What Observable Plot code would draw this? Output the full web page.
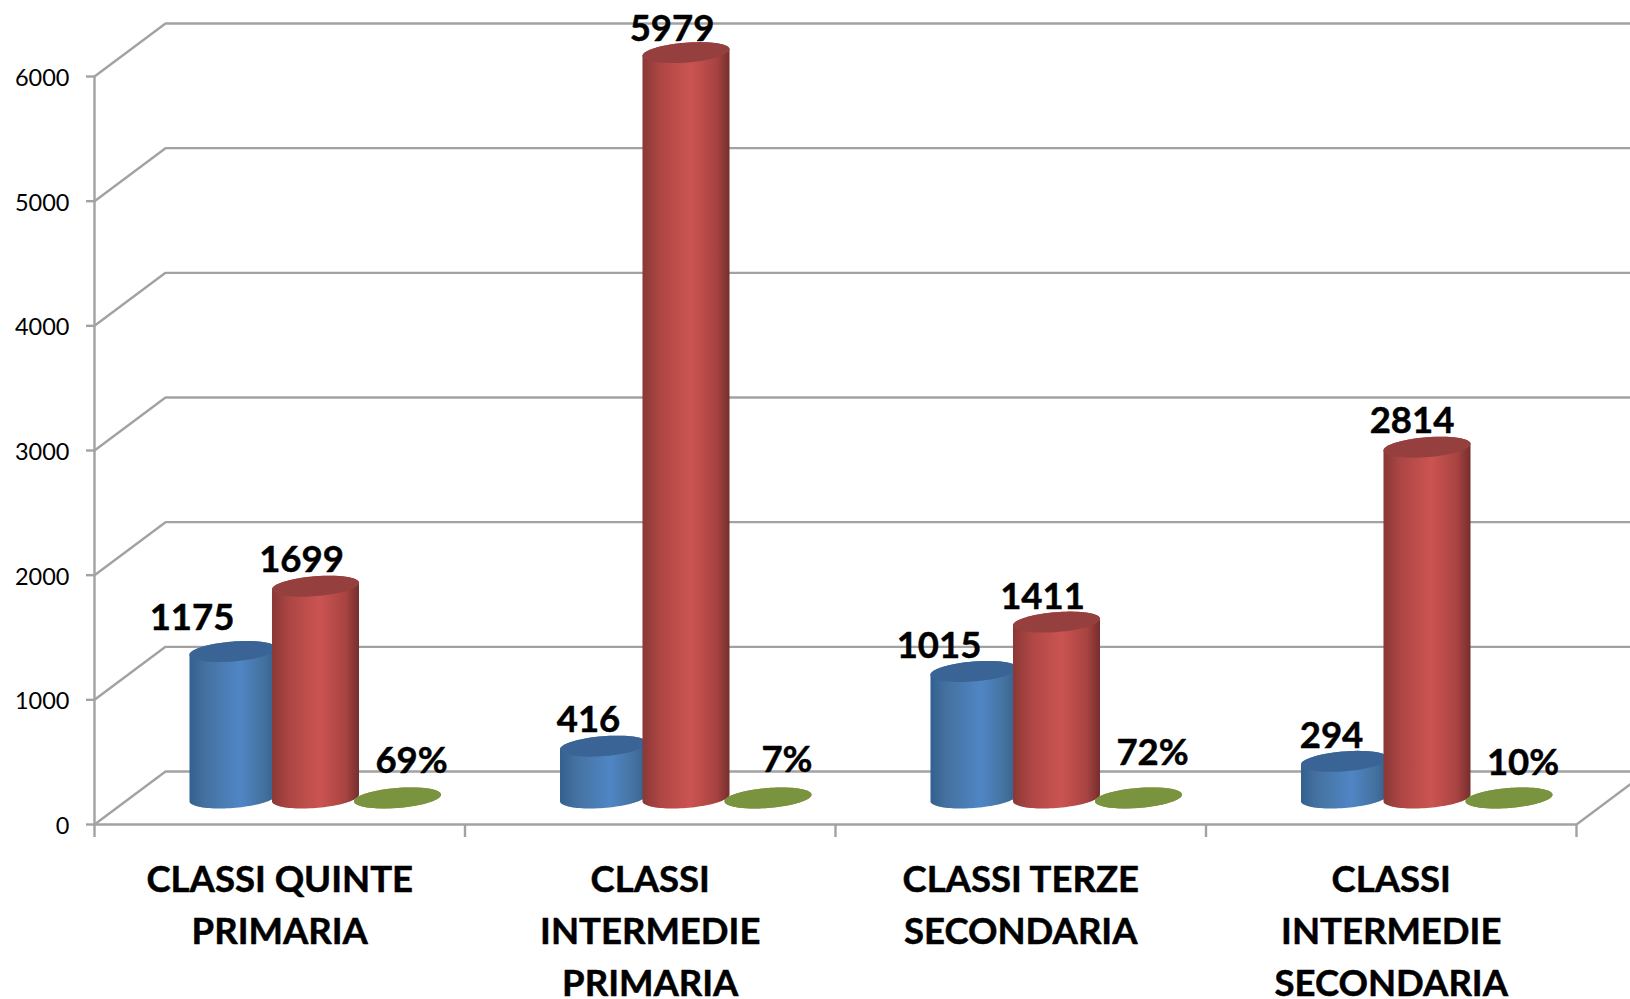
<!DOCTYPE html>
<html lang="it">
<head>
<meta charset="utf-8">
<title>Classi</title>
<style>
html,body{margin:0;padding:0;background:#fff;overflow:hidden}
svg{display:block;overflow:hidden}
</style>
<script src="https://cdn.jsdelivr.net/npm/d3@7"></script>
<script src="https://cdn.jsdelivr.net/npm/@observablehq/plot@0.6"></script>
</head>
<body>
<div id="chart"></div>
<script>
const categories = ["CLASSI QUINTE\nPRIMARIA", "CLASSI\nINTERMEDIE\nPRIMARIA", "CLASSI TERZE\nSECONDARIA", "CLASSI\nINTERMEDIE\nSECONDARIA"];
const blueValues = [1175, 416, 1015, 294];
const redValues = [1699, 5979, 1411, 2814];
const greenPercent = [69, 7, 72, 10];
const yTicks = [0, 1000, 2000, 3000, 4000, 5000, 6000];

// layout of the frame, in pixels
const W = 1630, H = 999, mL = 94, mR = 54, mT = 76, mB = 175;
const pxX = (W - mL - mR) / categories.length;      // pixels per category
const pxY = (H - mT - mB) / 6000;                   // pixels per value unit
const ux = v => v / pxX, uy = v => v / pxY;         // pixel lengths -> data lengths

// oblique depth of the 3-D box
const depthX = ux(71), depthY = uy(53);
const gridColor = "#a2a2a2";
const gridWidth = 2.4;
const font = "Lato";
const labelFont = {fontSize: 36.5, fontWeight: 700, fontFamily: font, fill: "#000", stroke: "#000", strokeWidth: 0.5};

// a cylinder stands mid-depth on the floor
const a = ux(41.3), bx = ux(13.7), by = uy(10.5);
const t0 = Math.atan2(bx, a);
const ring = (xc, yc, from, to, n = 48) =>
  d3.range(n + 1).map(i => {
    const t = from + (to - from) * i / n;
    return {x: xc + a * Math.cos(t) + bx * Math.sin(t), y: yc + by * Math.sin(t)};
  });

const series = [
  {values: blueValues, at: ux(138.5), grad: "url(#gBlue)", top: "#3a6496"},
  {values: redValues, at: ux(221), grad: "url(#gRed)", top: "#95403e"},
  {values: greenPercent.map(p => p / 100), at: ux(303), grad: "#7a933f", top: "#7a933f"}
];

const cylinderMarks = series.flatMap(s => {
  const body = [], caps = [];
  s.values.forEach((v, i) => {
    const xc = i + s.at, y0 = depthY / 2, y1 = v + depthY / 2;
    const id = String(i);
    [...ring(xc, y0, t0 + Math.PI, t0 + 2 * Math.PI), ...ring(xc, y1, t0, t0 + Math.PI)]
      .forEach(p => body.push({...p, id}));
    ring(xc, y1, 0, 2 * Math.PI, 72).forEach(p => caps.push({...p, id}));
  });
  return [
    Plot.line(body, {x: "x", y: "y", z: "id", fill: s.grad, stroke: "none"}),
    Plot.line(caps, {x: "x", y: "y", z: "id", fill: s.top, stroke: "none"})
  ];
});

// labels: pixel nudges relative to each cylinder's top centre
const nudges = {
  blue: [[-41, -33], [-15, -26], [-35, -25], [-13, -25]],
  red: [[-14, -26], [-14, -23], [-14, -25], [-15, -26]],
  green: [[14, -37], [19, -38], [14, -45], [14, -35]]
};
const labelRows = [
  ...blueValues.map((v, i) => ({t: String(v), x: i + series[0].at + ux(nudges.blue[i][0]), y: v + depthY / 2 - uy(nudges.blue[i][1])})),
  ...redValues.map((v, i) => ({t: String(v), x: i + series[1].at + ux(nudges.red[i][0]), y: v + depthY / 2 - uy(nudges.red[i][1])})),
  ...greenPercent.map((p, i) => ({t: p + "%", x: i + series[2].at + ux(nudges.green[i][0]), y: depthY / 2 - uy(nudges.green[i][1])}))
];

const gridRows = yTicks.flatMap(v => [
  {x: 0, y: v, v}, {x: depthX, y: v + depthY, v}, {x: categories.length + depthX, y: v + depthY, v}
]);
const floorRight = [{x: categories.length, y: 0}, {x: categories.length + depthX, y: depthY}];

function gradient(id, stops) {
  return d3.create("svg:linearGradient").attr("id", id)
    .call(g => stops.forEach(([o, c]) => g.append("stop").attr("offset", o).attr("stop-color", c)));
}
const defs = () => {
  const d = d3.create("svg:defs");
  d.append(() => gradient("gBlue", [[0, "#33618f"], [0.18, "#44719f"], [0.58, "#5086c6"], [0.85, "#44729f"], [1, "#345f8e"]]).node());
  d.append(() => gradient("gRed", [[0, "#8a3836"], [0.2, "#ad4644"], [0.55, "#cb5451"], [0.85, "#a74341"], [1, "#752e2c"]]).node());
  return d.node();
};

const chart = Plot.plot({
  width: W, height: H,
  marginLeft: mL, marginRight: mR, marginTop: mT, marginBottom: mB,
  style: {background: "#fff", overflow: "hidden"},
  x: {type: "linear", domain: [0, categories.length], label: null, axis: null},
  y: {type: "linear", domain: [0, 6000], label: null},
  marks: [
    defs,
    Plot.line(gridRows, {x: "x", y: "y", z: "v", stroke: gridColor, strokeWidth: gridWidth}),
    Plot.line(floorRight, {x: "x", y: "y", stroke: gridColor, strokeWidth: gridWidth}),
    Plot.ruleX([0], {y1: 0, y2: 6000, stroke: gridColor, strokeWidth: gridWidth}),
    Plot.ruleY([0], {x1: 0, x2: categories.length, stroke: gridColor, strokeWidth: gridWidth}),
    Plot.ruleY(yTicks, {x1: 0, x2: ux(-8), stroke: gridColor, strokeWidth: gridWidth}),
    Plot.ruleX(d3.range(categories.length + 1), {y1: 0, y2: uy(-13), stroke: gridColor, strokeWidth: gridWidth}),
    Plot.axisY({ticks: yTicks, tickFormat: "d", tickSize: 0, tickPadding: 25, dy: 2,
      fill: "#000", fontSize: 23.5, fontFamily: font, label: null}),
    ...cylinderMarks,
    Plot.text(labelRows, {x: "x", y: "y", text: "t", ...labelFont}),
    Plot.text(categories, {x: (d, i) => i + 0.5, y: 0, text: d => d, dy: 31, lineAnchor: "top", lineHeight: 52 / 36.5,
      textAnchor: "middle", ...labelFont})
  ]
});
document.getElementById("chart").append(chart);
</script>
</body>
</html>
